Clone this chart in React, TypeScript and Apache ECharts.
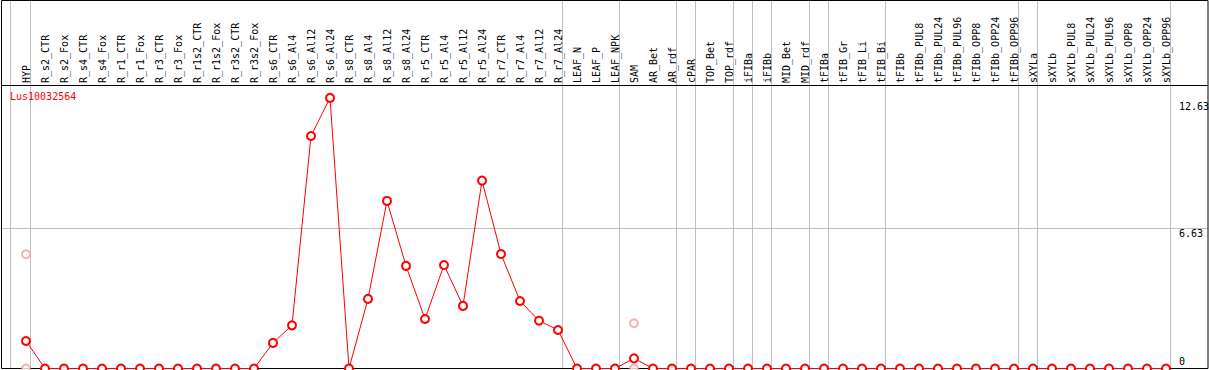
import React, { useEffect, useRef } from "react";
import * as echarts from "echarts";

const categories = [
  "HYP", "R_s2_CTR", "R_s2_Fox", "R_s4_CTR", "R_s4_Fox", "R_r1_CTR", "R_r1_Fox", "R_r3_CTR", "R_r3_Fox",
  "R_r1s2_CTR", "R_r1s2_Fox", "R_r3s2_CTR", "R_r3s2_Fox", "R_s6_CTR", "R_s6_Al4", "R_s6_Al12", "R_s6_Al24",
  "R_s8_CTR", "R_s8_Al4", "R_s8_Al12", "R_s8_Al24", "R_r5_CTR", "R_r5_Al4", "R_r5_Al12", "R_r5_Al24",
  "R_r7_CTR", "R_r7_Al4", "R_r7_Al12", "R_r7_Al24", "LEAF_N", "LEAF_P", "LEAF_NPK", "SAM", "AR_Bet", "AR_rdf",
  "cPAR", "TOP_Bet", "TOP_rdf", "iFIBa", "iFIBb", "MID_Bet", "MID_rdf", "tFIBa", "tFIB_Gr", "tFIB_Li", "tFIB_Bi",
  "tFIBb", "tFIBb_PUL8", "tFIBb_PUL24", "tFIBb_PUL96", "tFIBb_OPP8", "tFIBb_OPP24", "tFIBb_OPP96",
  "sXYLa", "sXYLb", "sXYLb_PUL8", "sXYLb_PUL24", "sXYLb_PUL96", "sXYLb_OPP8", "sXYLb_OPP24", "sXYLb_OPP96",
];

const expression = [
  1.30, 0, 0, 0, 0, 0, 0, 0, 0, 0, 0, 0, 0,
  1.21, 2.04, 10.99, 12.79,
  0, 3.29, 7.92, 4.85,
  2.34, 4.89, 2.96, 8.88,
  5.41, 3.19, 2.26, 1.82,
  0, 0, 0, 0.48,
  0, 0, 0, 0, 0, 0, 0, 0, 0, 0, 0, 0, 0, 0,
  0, 0, 0, 0, 0, 0, 0, 0, 0, 0, 0, 0, 0, 0,
];

const replicateCats = ["HYP", "HYP", "SAM", "SAM"];
const replicateVals = [5.40, 0, 2.14, 0];

const groupEnds = [
  "HYP", "R_r7_Al24", "LEAF_NPK", "AR_rdf", "cPAR", "TOP_rdf", "iFIBa", "iFIBb",
  "MID_rdf", "tFIBa", "tFIB_Bi", "tFIBb_OPP96", "sXYLa", "sXYLb_OPP96",
];

const yTickLabels = ["0", "6.63", "12.63"];
const yTickValues = [0, 6.63, 12.63];
const yGridValues = [6.63];

const geneName = "Lus10032564";

const FONT = "DejaVu Sans Mono";

export default function App() {
  const ref = useRef<HTMLDivElement>(null);
  useEffect(() => {
    if (!ref.current) return;
    const chart = echarts.init(ref.current, null, { renderer: "svg" });
    chart.setOption({
      animation: false,
      grid: { left: 16.5, right: 33.5, top: 85, bottom: 1.5 },
      xAxis: {
        type: "category",
        data: categories,
        position: "top",
        boundaryGap: true,
        axisLine: { show: false },
        axisTick: { show: false },
        splitLine: { show: false },
        axisLabel: {
          interval: 0,
          rotate: 90,
          margin: 2,
          fontSize: 10,
          fontFamily: FONT,
          color: "#000",
        },
      },
      yAxis: {
        type: "value",
        min: 0,
        max: 13.4,
        axisLabel: { show: false },
        axisLine: { show: false },
        axisTick: { show: false },
        splitLine: { show: false },
      },
      series: [
        {
          type: "scatter",
          data: replicateCats.map((c, i) => [c, replicateVals[i]]),
          symbol: "emptyCircle",
          symbolSize: 8,
          itemStyle: { color: "#f0a0a0", borderWidth: 1.1 },
          clip: false,
          z: 2,
        },
        {
          type: "line",
          data: expression,
          symbol: "emptyCircle",
          symbolSize: 8,
          showAllSymbol: true,
          lineStyle: { color: "#ff0000", width: 1 },
          itemStyle: { color: "#ff0000", borderWidth: 1.1 },
          clip: false,
          z: 3,
        },
      ],
    });

    const px = (c: string) => chart.convertToPixel({ xAxisIndex: 0 }, c) as number;
    const py = (v: number) => chart.convertToPixel({ yAxisIndex: 0 }, v) as number;
    const bottomY = 368.5;

    const graphics: any[] = [];
    graphics.push({
      type: "line", silent: true, z: 0,
      shape: { x1: 10.5, y1: 0, x2: 10.5, y2: bottomY },
      style: { stroke: "#c0c0c0", lineWidth: 1 },
    });
    groupEnds.forEach((c) => {
      const x = Math.round(px(c) + 4) + 0.5;
      graphics.push({
        type: "line", silent: true, z: 0,
        shape: { x1: x, y1: 0, x2: x, y2: bottomY },
        style: { stroke: "#c0c0c0", lineWidth: 1 },
      });
    });
    yGridValues.forEach((v) => {
      const y = Math.round(py(v)) + 0.5;
      graphics.push({
        type: "line", silent: true, z: 0,
        shape: { x1: 1, y1: y, x2: 1208, y2: y },
        style: { stroke: "#c0c0c0", lineWidth: 1 },
      });
    });
    graphics.push({
      type: "rect", silent: true, z: 1,
      shape: { x: 1.5, y: 0.5, width: 1206.5, height: 368 },
      style: { fill: "none", stroke: "#000", lineWidth: 1 },
    });
    graphics.push({
      type: "line", silent: true, z: 1,
      shape: { x1: 1, y1: 85.5, x2: 1208, y2: 85.5 },
      style: { stroke: "#000", lineWidth: 1 },
    });
    yTickValues.forEach((v, i) => {
      const y = py(v);
      graphics.push({
        type: "text", silent: true, z: 5,
        x: 1179,
        y: v === 0 ? y - 2 : y,
        style: {
          text: yTickLabels[i],
          fill: "#000",
          fontSize: 10,
          fontFamily: FONT,
          align: "left",
          verticalAlign: v === 0 ? "bottom" : "top",
        },
      });
    });
    graphics.push({
      type: "text", silent: true, z: 5,
      x: 10, y: 91,
      style: {
        text: geneName,
        fill: "#ff0000",
        fontSize: 10,
        fontFamily: FONT,
        align: "left",
        verticalAlign: "top",
      },
    });
    chart.setOption({ graphic: graphics });

    return () => chart.dispose();
  }, []);

  return (
    <div
      ref={ref}
      style={{ position: "fixed", left: 0, top: 0, width: 1209, height: 370, background: "#fff" }}
    />
  );
}
